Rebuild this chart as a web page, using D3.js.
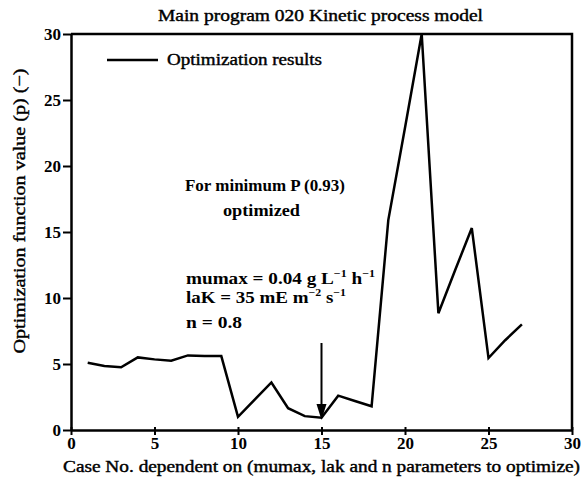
<!DOCTYPE html>
<html><head><meta charset="utf-8">
<script src="https://cdn.jsdelivr.net/npm/d3@7"></script>
<style>body{margin:0;background:#fff}text{font-family:"Liberation Serif","Times New Roman",serif;fill:#000}
.reg{stroke:#000;stroke-width:0.4px}.bld{font-weight:bold}</style>
</head><body>
<svg id="c" width="585" height="485"></svg>
<script>
const caseNo = [1,2,3,4,5,6,7,8,9,10,11,12,13,14,15,16,17,18,19,20,21,22,23,24,25,26,27];
const pValue = [5.1,4.85,4.75,5.5,5.35,5.25,5.65,5.6,5.6,1.0,2.3,3.6,1.65,1.05,0.93,2.6,2.2,1.8,15.9,22.9,30,8.85,12.1,15.3,5.45,6.8,8.0];
const xTicks = [0,5,10,15,20,25,30];
const yTicks = [0,5,10,15,20,25,30];
const titleText = "Main program 020 Kinetic process model";
const xLabel = "Case No. dependent on (mumax, lak and n parameters to optimize)";
const yLabel = "Optimization function value (p) (\u2212)";
const legendLabel = "Optimization results";

const svg = d3.select("#c");
const L = 71, R = 572, T = 34, B = 430;
const x = d3.scaleLinear().domain([0,30]).range([L,R]);
const y = d3.scaleLinear().domain([0,30]).range([B,T]);

// frame (top and right)
svg.append("path").attr("d",`M${L},${T}H${R}V${B}`).attr("fill","none").attr("stroke","#000").attr("stroke-width",2.5);

// x axis
const xa = svg.append("g").attr("transform",`translate(0,${B})`)
  .call(d3.axisBottom(x).tickValues(xTicks).tickSizeInner(5).tickSizeOuter(0).tickPadding(4));
xa.select(".domain").attr("stroke-width",2.5);
xa.selectAll(".tick line").attr("y1",-3).attr("stroke-width",2);
xa.selectAll(".tick text").attr("class","bld").attr("font-size",17).attr("dy","0.6em");

// y axis
const ya = svg.append("g").attr("transform",`translate(${L},0)`)
  .call(d3.axisLeft(y).tickValues(yTicks).tickSizeInner(8).tickSizeOuter(0).tickPadding(2));
ya.select(".domain").attr("stroke-width",2.5);
ya.selectAll(".tick line").attr("stroke-width",2);
ya.selectAll(".tick text").attr("class","bld").attr("font-size",17);

// line
const line = d3.line().x((d,i)=>x(caseNo[i])).y(d=>y(d));
svg.append("path").datum(pValue).attr("d",line).attr("fill","none")
  .attr("stroke","#000").attr("stroke-width",2.5).attr("stroke-linejoin","miter");

// title
svg.append("text").attr("class","reg").attr("x",158).attr("y",21).attr("font-size",16)
  .attr("textLength",325).attr("lengthAdjust","spacingAndGlyphs").text(titleText);

// legend
svg.append("line").attr("x1",107).attr("x2",158).attr("y1",60).attr("y2",60).attr("stroke","#000").attr("stroke-width",2.5);
svg.append("text").attr("class","reg").attr("x",167).attr("y",65).attr("font-size",16)
  .attr("textLength",155).attr("lengthAdjust","spacingAndGlyphs").text(legendLabel);

// axis labels
svg.append("text").attr("class","reg").attr("x",63).attr("y",472).attr("font-size",16)
  .attr("textLength",517).attr("lengthAdjust","spacingAndGlyphs").text(xLabel);
svg.append("text").attr("class","reg").attr("transform","translate(25,211) rotate(-90)").attr("text-anchor","middle").attr("font-size",17)
  .attr("textLength",285).attr("lengthAdjust","spacingAndGlyphs").text(yLabel);

// annotations
svg.append("text").attr("class","bld").attr("x",185).attr("y",191).attr("font-size",16)
  .attr("textLength",160).attr("lengthAdjust","spacingAndGlyphs").text("For minimum P (0.93)");
svg.append("text").attr("class","bld").attr("x",223).attr("y",216).attr("font-size",16)
  .attr("textLength",77).attr("lengthAdjust","spacingAndGlyphs").text("optimized");

function supText(parts, xx, yy, w){
  const el = svg.append("text").attr("class","bld").attr("x",xx).attr("y",yy).attr("font-size",16);
  parts.forEach(p=>{
    if (p.s) el.append("tspan").attr("font-size",10).attr("dy",-7).text(p.t);
    else el.append("tspan").attr("dy", p.back ? 7 : 0).text(p.t);
  });
  el.attr("textLength",w).attr("lengthAdjust","spacingAndGlyphs");
  return el;
}
supText([{t:"mumax = 0.04 g L"},{t:"\u22121",s:1},{t:" h",back:1},{t:"\u22121",s:1}],186,284,189);
supText([{t:"laK = 35 mE m"},{t:"\u22122",s:1},{t:" s",back:1},{t:"\u22121",s:1}],186,303,160);
svg.append("text").attr("class","bld").attr("x",186).attr("y",328).attr("font-size",16)
  .attr("textLength",56).attr("lengthAdjust","spacingAndGlyphs").text("n = 0.8");

// arrow at case 15
const ax = x(15);
svg.append("line").attr("x1",ax).attr("x2",ax).attr("y1",343).attr("y2",408).attr("stroke","#000").attr("stroke-width",2);
svg.append("path").attr("d",`M${ax-5},${404}L${ax+5},${404}L${ax},${420}Z`).attr("fill","#000");
</script>
</body></html>
